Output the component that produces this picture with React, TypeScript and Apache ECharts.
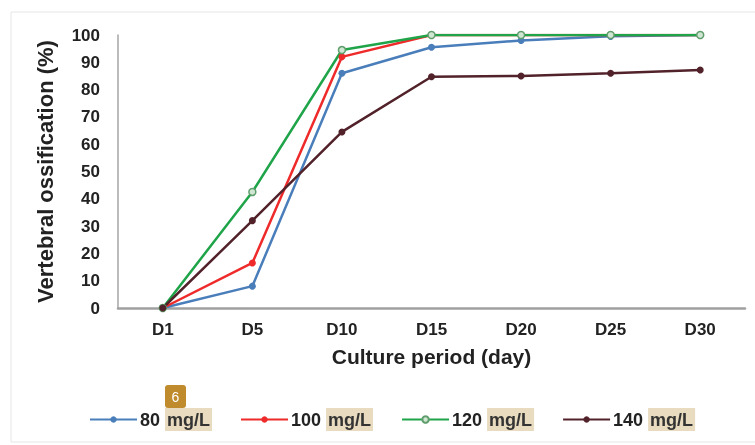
import React, { useEffect, useRef } from "react";
import * as echarts from "echarts";

const categories = ["D1", "D5", "D10", "D15", "D20", "D25", "D30"];
const seriesNames = ["80 mg/L", "100 mg/L", "120 mg/L", "140 mg/L"];
const s80 = [0, 8, 86, 95.5, 98, 99.5, 100];
const s100 = [0, 16.5, 92, 100, 100, 100, 100];
const s120 = [0, 42.5, 94.5, 100, 100, 100, 100];
const s140 = [0, 32, 64.5, 84.7, 85, 86, 87.2];
const colors = ["#4a7ebb", "#ee2a2a", "#1fa449", "#52222a"];

export default function App() {
  const ref = useRef<HTMLDivElement>(null);
  useEffect(() => {
    if (!ref.current) return;
    const chart = echarts.init(ref.current, null, { renderer: "svg" });
    const font = "'Liberation Sans', Arial, sans-serif";
    const mk = (name: string, data: number[], color: string, sym: any) => ({
      name,
      type: "line",
      data,
      symbol: "circle",
      symbolSize: 7,
      lineStyle: { color, width: 2.5 },
      itemStyle: sym,
      color,
      z: 2,
    });
    chart.setOption({
      animation: false,
      color: colors,
      textStyle: { fontFamily: font },
      grid: { left: 118, right: 10, top: 35, bottom: 137, containLabel: false },
      graphic: [
        {
          type: "rect",
          shape: { x: 11, y: 12, width: 760, height: 430 },
          style: { stroke: "#e6e6e6", fill: "none", lineWidth: 1 },
          z: -1,
        },
        {
          type: "group",
          left: 165,
          top: 385,
          children: [
            { type: "rect", shape: { x: 0, y: 0, width: 21, height: 23, r: 3 }, style: { fill: "#c08b2c" } },
            {
              type: "text",
              x: 10.5,
              y: 11.5,
              style: { text: "6", fill: "#ffffff", fontSize: 14, fontFamily: font, align: "center", verticalAlign: "middle" },
            },
          ],
        },
      ],
      legend: {
        data: seriesNames,
        left: 84,
        top: 403,
        itemWidth: 47,
        itemHeight: 8,
        itemGap: 28,
        formatter: (name: string) => name.replace("mg/L", "{h|mg/L}"),
        textStyle: {
          fontFamily: font,
          fontSize: 18,
          fontWeight: "bold",
          color: "#222",
          padding: [0, 0, 0, -2],
          rich: {
            h: {
              fontFamily: font,
              fontSize: 18,
              fontWeight: "bold",
              color: "#333",
              backgroundColor: "#e8dbbf",
              padding: [3, 2, 2, 2],
            },
          },
        },
      },
      xAxis: {
        type: "category",
        data: categories,
        boundaryGap: true,
        name: "Culture period (day)",
        nameLocation: "middle",
        nameGap: 38,
        nameTextStyle: { fontFamily: font, fontSize: 21, fontWeight: "bold", color: "#222" },
        axisLine: { lineStyle: { color: "#a0a0a0", width: 2.5 } },
        axisTick: { show: false },
        axisLabel: { fontFamily: font, fontSize: 17, fontWeight: "bold", color: "#222", margin: 13 },
        splitLine: { show: false },
      },
      yAxis: {
        type: "value",
        min: 0,
        max: 100,
        interval: 10,
        name: "Vertebral ossification (%)",
        nameLocation: "middle",
        nameGap: 62,
        nameRotate: 90,
        nameTextStyle: { fontFamily: font, fontSize: 22, fontWeight: "bold", color: "#222" },
        axisLine: { show: true, lineStyle: { color: "#a6a6a6", width: 1.5 } },
        axisTick: { show: false },
        axisLabel: { fontFamily: font, fontSize: 17, fontWeight: "bold", color: "#222", margin: 18 },
        splitLine: { show: false },
      },
      series: [
        mk(seriesNames[0], s80, colors[0], { color: colors[0] }),
        mk(seriesNames[1], s100, colors[1], { color: colors[1] }),
        mk(seriesNames[2], s120, colors[2], { color: "#cfe6d2", borderColor: "#5f9e6c", borderWidth: 1.5 }),
        mk(seriesNames[3], s140, colors[3], { color: colors[3] }),
      ],
    });
    return () => chart.dispose();
  }, []);
  return <div ref={ref} style={{ position: "fixed", left: 0, top: 0, width: 755, height: 445 }} />;
}
